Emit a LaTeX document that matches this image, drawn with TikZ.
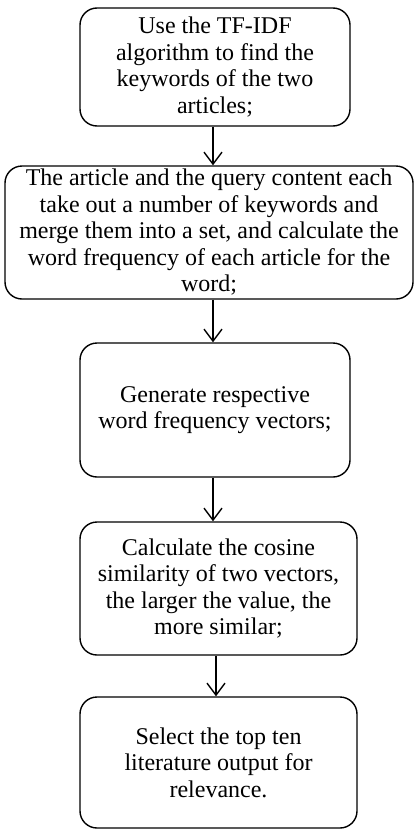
\documentclass[tikz,border=0pt]{standalone}
\usepackage{fontspec}
\setmainfont{Liberation Serif}
\usetikzlibrary{arrows.meta}
\begin{document}
\begin{tikzpicture}[x=1pt,y=-1pt,
  box/.style={draw, line width=1.4pt, rounded corners=17pt, align=center, inner sep=0pt,
    font=\fontsize{24}{26.5}\selectfont},
  arr/.style={line width=1.4pt, -{Straight Barb[length=12pt,width=18pt,line width=1.4pt]}}]
\useasboundingbox (0,0) rectangle (415,830);
\node[box, minimum width=270pt, minimum height=118pt] (b1) at (215,67)
  {Use the TF-IDF\\algorithm to find the\\keywords of the two\\articles;};
\node[box, minimum width=408pt, minimum height=133pt] (b2) at (209,232.5)
  {The article and the query content each\\take out a number of keywords and\\merge them into a set, and calculate the\\word frequency of each article for the\\word;};
\node[box, minimum width=270pt, minimum height=134pt] (b3) at (215,410)
  {Generate respective\\word frequency vectors;};
\node[box, minimum width=277pt, minimum height=133pt] (b4) at (218.5,588.5)
  {Calculate the cosine\\similarity of two vectors,\\the larger the value, the\\more similar;};
\node[box, minimum width=277pt, minimum height=131pt] (b5) at (218.5,762.5)
  {Select the top ten\\literature output for\\relevance.};
\coordinate (xa) at (213,0);
\coordinate (xb) at (216,0);
\draw[arr] (b1.south -| xa) -- (b2.north -| xa);
\draw[arr] (b2.south -| xa) -- (b3.north -| xa);
\draw[arr] (b3.south -| xa) -- (b4.north -| xa);
\draw[arr] (b4.south -| xb) -- (b5.north -| xb);
\end{tikzpicture}
\end{document}
